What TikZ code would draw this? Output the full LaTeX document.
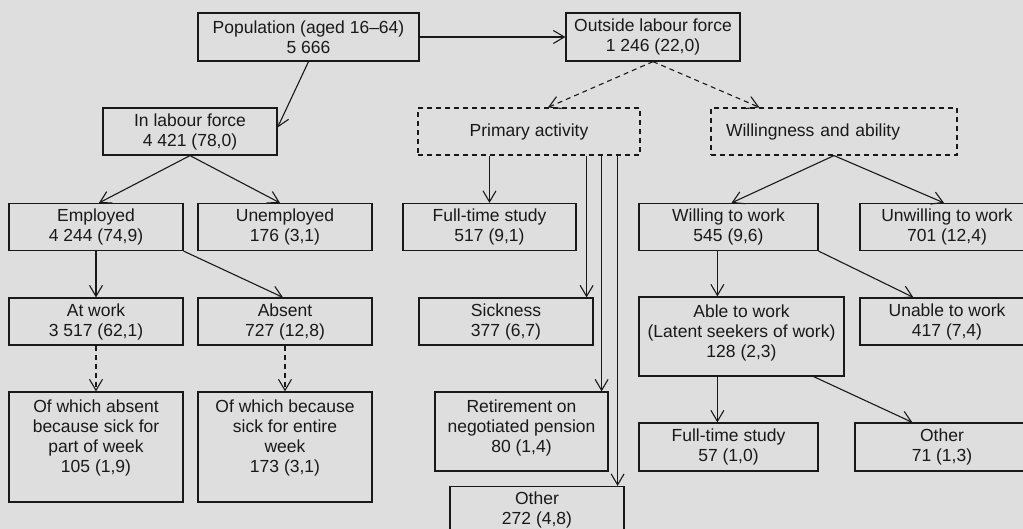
\documentclass[tikz,border=0pt]{standalone}
\usepackage{fontspec}
\setmainfont{Liberation Sans}
\usetikzlibrary{arrows.meta,calc}
\definecolor{bg}{RGB}{222,222,222}
\definecolor{ink}{RGB}{25,25,25}
\newcommand{\topbox}[3]{\parbox[c][#1][t]{#2}{\centering #3}}
\begin{document}
\begin{tikzpicture}[x=1pt,y=-1pt,
  box/.style={draw=ink, line width=1.2pt, minimum width=174pt, minimum height=47pt,
    inner sep=0pt, align=center, text=ink, font=\fontsize{17.5}{20}\selectfont},
  dbox/.style={box, dash pattern=on 5pt off 4pt},
  arr/.style={draw=ink, line width=1.1pt, -{Straight Barb[length=11pt,width=13pt]}},
  darr/.style={arr, dash pattern=on 5pt off 4pt}]
\useasboundingbox[fill=bg] (0,0) rectangle (1023,529);
\clip (0,0) rectangle (1023,529);

% row 0
\node[box, minimum width=221pt, minimum height=48pt] (pop) at (308.5,37) {Population (aged 16--64)\\5 666};
\node[box, minimum height=48pt] (olf) at (653,37) {Outside labour force\\1 246 (22,0)};
% row 1
\node[box] (ilf) at (190,131.5) {In labour force\\4 421 (78,0)};
\node[dbox, minimum width=222pt] (prim) at (529,131.5) {Primary activity};
\node[dbox, text width=216pt, align=left, inner xsep=15pt] (will) at (834,131.5) {Willingness and ability};
% row 2
\node[box] (emp) at (96,227) {Employed\\4 244 (74,9)};
\node[box] (unemp) at (285,227) {Unemployed\\176 (3,1)};
\node[box, minimum width=173pt] (fts) at (489.5,227) {Full-time study\\517 (9,1)};
\node[box, minimum width=179pt] (wtw) at (728.5,227) {Willing to work\\545 (9,6)};
\node[box] (unw) at (947,227) {Unwilling to work\\701 (12,4)};
% row 3
\node[box] (atw) at (96,321.5) {At work\\3 517 (62,1)};
\node[box] (abs) at (285,321.5) {Absent\\727 (12,8)};
\node[box] (sick) at (506,321.5) {Sickness\\377 (6,7)};
\node[box, minimum width=205pt, minimum height=79pt] (able) at (741.5,336.5)
  {\topbox{63pt}{200pt}{Able to work\\(Latent seekers of work)\\128 (2,3)}};
\node[box] (unable) at (947,321.5) {Unable to work\\417 (7,4)};
% row 4
\node[box, minimum height=110pt] (ofa) at (96,447)
  {\topbox{95pt}{165pt}{Of which absent\\because sick for\\part of week\\105 (1,9)}};
\node[box, minimum height=110pt] (ofb) at (285,447)
  {\topbox{95pt}{165pt}{Of which because\\sick for entire\\week\\173 (3,1)}};
\node[box, minimum width=173pt, minimum height=79pt] (ret) at (521.5,431.5)
  {\topbox{64pt}{165pt}{Retirement on\\negotiated pension\\80 (1,4)}};
\node[box, minimum width=179pt, minimum height=48pt] (ft57) at (728.5,447) {Full-time study\\57 (1,0)};
\node[box, minimum height=48pt] (oth71) at (942,447) {Other\\71 (1,3)};
\node[box] (oth272) at (537,510) {Other\\272 (4,8)};

% connectors
\draw[arr] (pop.south) -- ([yshift=4pt]ilf.east);
\draw[arr] (pop.east) -- (olf.west);
\draw[darr] (olf.south) -- ([xshift=19pt]prim.north);
\draw[darr] (olf.south) -- ([xshift=49pt]will.north west);

\draw[arr] (ilf.south) -- ([xshift=3pt]emp.north);
\draw[arr] (ilf.south) -- ([xshift=-5pt]unemp.north);
\draw[arr] (emp.south) -- (atw.north);
\draw[arr] (emp.south east) -- ([xshift=-2pt]abs.north);
\draw[darr] (atw.south) -- (ofa.north);
\draw[darr] (abs.south) -- (ofb.north);

\draw[arr] (prim.south -| fts.north) -- (fts.north);
\coordinate (sk) at ([xshift=-7pt]sick.north east);
\coordinate (rt) at ([xshift=-7pt]ret.north east);
\coordinate (ot) at ([xshift=-7pt]oth272.north east);
\draw[arr] (sk |- prim.south) -- (sk);
\draw[arr] (rt |- prim.south) -- (rt);
\draw[arr] (ot |- prim.south) -- (ot);

\draw[arr] (will.south) -- ([xshift=3pt]wtw.north);
\draw[arr] (will.south) -- ([xshift=-3pt]unw.north);
\coordinate (wa) at ([xshift=79pt]wtw.south west);
\draw[arr] (wa) -- (wa |- able.north);
\draw[arr] (wtw.south east) -- ([xshift=54pt]unable.north west);
\draw[arr] (wa |- able.south) -- (wa |- ft57.north);
\draw[arr] ([xshift=-31pt]able.south east) -- ([xshift=58pt]oth71.north west);
\end{tikzpicture}
\end{document}
